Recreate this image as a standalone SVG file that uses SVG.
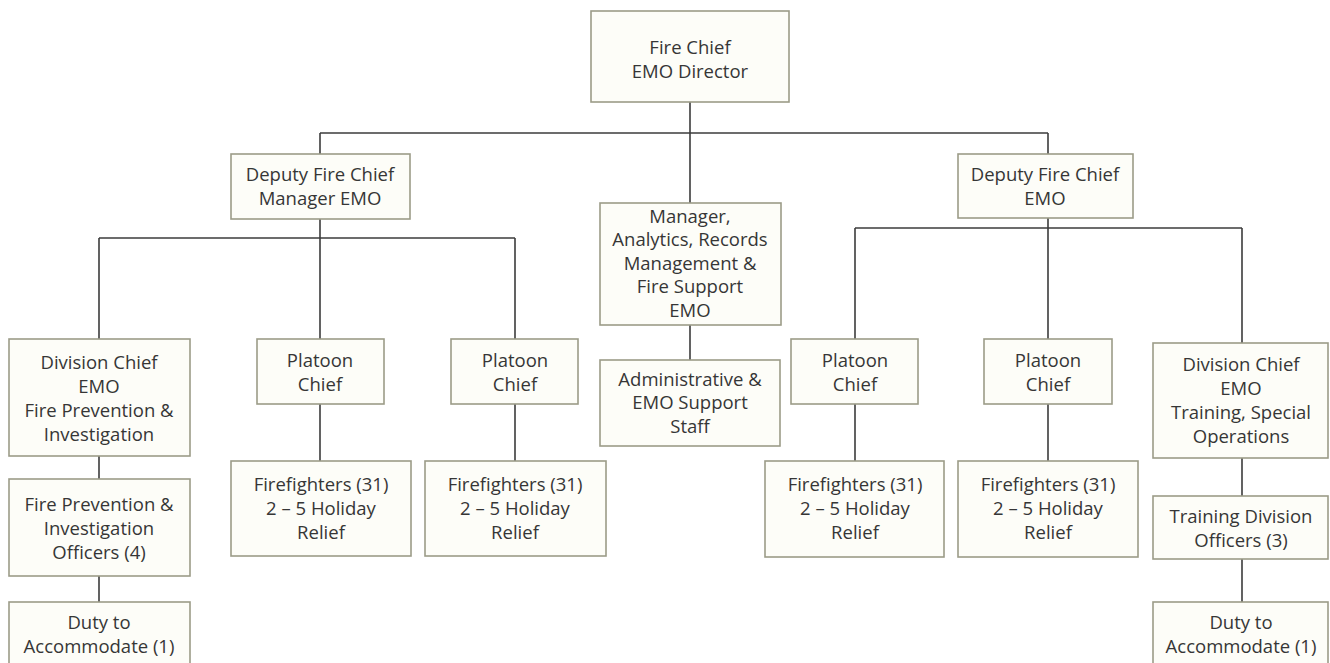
<svg xmlns="http://www.w3.org/2000/svg" width="1330" height="663" viewBox="0 0 1330 663">
  <style>
    .box { fill: #fdfdf8; stroke: #9c9c88; stroke-width: 1.6; }
    .lbl { font-family: "Open Sans", "Noto Sans", sans-serif; font-size: 18.5px; fill: #363636; text-anchor: middle; dominant-baseline: central; }
    .wire { stroke: #3c3c3c; stroke-width: 1.6; fill: none; }
  </style>
  <rect width="1330" height="663" fill="#ffffff"/>

  <!-- reporting lines -->
  <g id="connectors" class="wire">
    <path d="M690 102V133M320 133H1048M320 133V154M1048 133V154M690 133V203"/>
    <path d="M320 219V238M99 238H515M99 238V339M320 238V339M515 238V339"/>
    <path d="M320 404V461M515 404V461M99 456V479M99 576V602M690 325V360"/>
    <path d="M1048 218V228M855 228H1242M855 228V339M1048 228V339M1242 228V343"/>
    <path d="M855 404V461M1048 404V461M1242 458V496M1242 559V602"/>
  </g>

  <g id="fire-chief">
    <rect class="box" x="591" y="11" width="198" height="91"/>
    <text class="lbl" x="690" y="46">Fire Chief</text>
    <text class="lbl" x="690" y="70">EMO Director</text>
  </g>

  <g id="deputy-manager-emo">
    <rect class="box" x="231" y="154" width="179" height="65"/>
    <text class="lbl" x="320" y="173">Deputy Fire Chief</text>
    <text class="lbl" x="320" y="197">Manager EMO</text>
  </g>

  <g id="deputy-emo">
    <rect class="box" x="958" y="154" width="175" height="64"/>
    <text class="lbl" x="1045" y="173">Deputy Fire Chief</text>
    <text class="lbl" x="1045" y="197">EMO</text>
  </g>

  <g id="manager-analytics">
    <rect class="box" x="600" y="203" width="181" height="122"/>
    <text class="lbl" x="690" y="215">Manager,</text>
    <text class="lbl" x="690" y="238.5">Analytics, Records</text>
    <text class="lbl" x="690" y="262">Management &amp;</text>
    <text class="lbl" x="690" y="285.5">Fire Support</text>
    <text class="lbl" x="690" y="309">EMO</text>
  </g>

  <g id="admin-staff">
    <rect class="box" x="600" y="360" width="180" height="86"/>
    <text class="lbl" x="690" y="378">Administrative &amp;</text>
    <text class="lbl" x="690" y="401.5">EMO Support</text>
    <text class="lbl" x="690" y="425">Staff</text>
  </g>

  <g id="division-chief-prevention">
    <rect class="box" x="9" y="339" width="181" height="117"/>
    <text class="lbl" x="99" y="361">Division Chief</text>
    <text class="lbl" x="99" y="385">EMO</text>
    <text class="lbl" x="99" y="409">Fire Prevention &amp;</text>
    <text class="lbl" x="99" y="433">Investigation</text>
  </g>

  <g id="prevention-officers">
    <rect class="box" x="9" y="479" width="181" height="97"/>
    <text class="lbl" x="99" y="503">Fire Prevention &amp;</text>
    <text class="lbl" x="99" y="527">Investigation</text>
    <text class="lbl" x="99" y="551">Officers (4)</text>
  </g>

  <g id="duty-left">
    <rect class="box" x="9" y="602" width="181" height="90"/>
    <text class="lbl" x="99" y="621">Duty to</text>
    <text class="lbl" x="99" y="645">Accommodate (1)</text>
  </g>

  <g id="platoon-1">
    <rect class="box" x="257" y="339" width="127" height="65"/>
    <text class="lbl" x="320" y="359.5">Platoon</text>
    <text class="lbl" x="320" y="383.5">Chief</text>
  </g>

  <g id="platoon-2">
    <rect class="box" x="451" y="339" width="127" height="65"/>
    <text class="lbl" x="515" y="359.5">Platoon</text>
    <text class="lbl" x="515" y="383.5">Chief</text>
  </g>

  <g id="platoon-3">
    <rect class="box" x="791" y="339" width="127" height="65"/>
    <text class="lbl" x="855" y="359.5">Platoon</text>
    <text class="lbl" x="855" y="383.5">Chief</text>
  </g>

  <g id="platoon-4">
    <rect class="box" x="984" y="339" width="128" height="65"/>
    <text class="lbl" x="1048" y="359.5">Platoon</text>
    <text class="lbl" x="1048" y="383.5">Chief</text>
  </g>

  <g id="firefighters-1">
    <rect class="box" x="231" y="461" width="180" height="95"/>
    <text class="lbl" x="321" y="483">Firefighters (31)</text>
    <text class="lbl" x="321" y="507">2 – 5 Holiday</text>
    <text class="lbl" x="321" y="531">Relief</text>
  </g>

  <g id="firefighters-2">
    <rect class="box" x="425" y="461" width="181" height="95"/>
    <text class="lbl" x="515" y="483">Firefighters (31)</text>
    <text class="lbl" x="515" y="507">2 – 5 Holiday</text>
    <text class="lbl" x="515" y="531">Relief</text>
  </g>

  <g id="firefighters-3">
    <rect class="box" x="765" y="461" width="179" height="96"/>
    <text class="lbl" x="855" y="483">Firefighters (31)</text>
    <text class="lbl" x="855" y="507">2 – 5 Holiday</text>
    <text class="lbl" x="855" y="531">Relief</text>
  </g>

  <g id="firefighters-4">
    <rect class="box" x="958" y="461" width="180" height="96"/>
    <text class="lbl" x="1048" y="483">Firefighters (31)</text>
    <text class="lbl" x="1048" y="507">2 – 5 Holiday</text>
    <text class="lbl" x="1048" y="531">Relief</text>
  </g>

  <g id="division-chief-training">
    <rect class="box" x="1153" y="343" width="175" height="115"/>
    <text class="lbl" x="1241" y="363">Division Chief</text>
    <text class="lbl" x="1241" y="387">EMO</text>
    <text class="lbl" x="1241" y="411">Training, Special</text>
    <text class="lbl" x="1241" y="435">Operations</text>
  </g>

  <g id="training-officers">
    <rect class="box" x="1153" y="496" width="175" height="63"/>
    <text class="lbl" x="1241" y="515">Training Division</text>
    <text class="lbl" x="1241" y="539">Officers (3)</text>
  </g>

  <g id="duty-right">
    <rect class="box" x="1153" y="602" width="175" height="90"/>
    <text class="lbl" x="1241" y="621">Duty to</text>
    <text class="lbl" x="1241" y="645">Accommodate (1)</text>
  </g>
</svg>
